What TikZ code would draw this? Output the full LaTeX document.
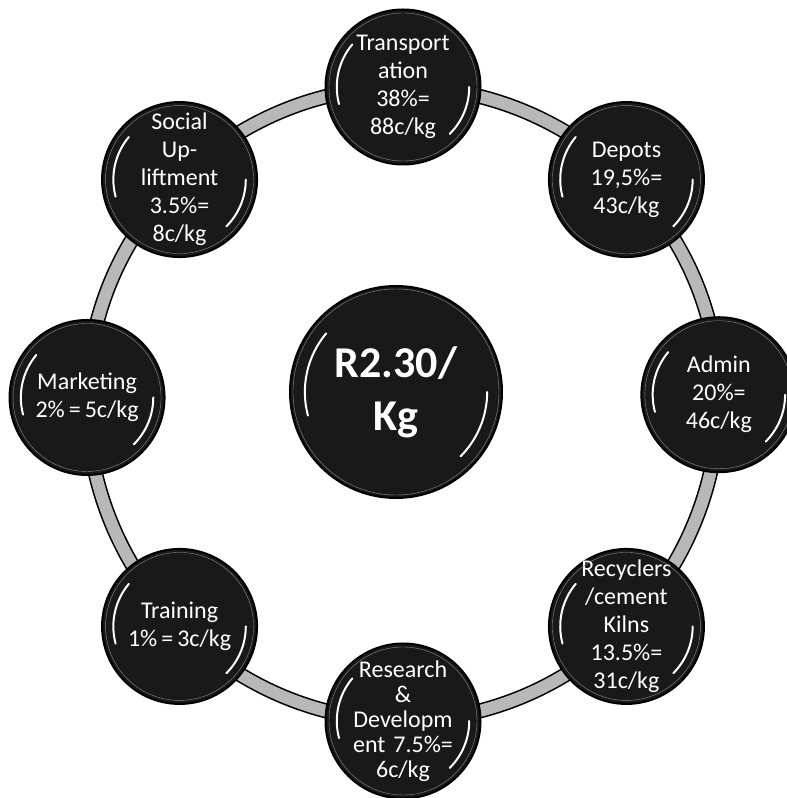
\documentclass[tikz,border=0pt]{standalone}
\usepackage{fontspec}
\setmainfont{Carlito}
\usetikzlibrary{backgrounds,calc}

\begin{document}
\begin{tikzpicture}[x=1pt,y=1pt]
    \tikzstyle{ball}=[circle,draw=black,line width=2pt,fill=black!90,text=white!92,
    minimum size=155pt,inner sep=-15pt,text width=120pt,align=center,
    font=\fontsize{24}{28}\selectfont]
    \tikzstyle{hub}=[ball,minimum size=212pt,text width=150pt,
    font=\fontsize{44}{53}\selectfont\bfseries]
    \tikzstyle{band}=[line width=1.6pt,draw=black,double=black!28,double distance=12pt]
    \tikzstyle{gloss}=[white!88,line width=2pt,line cap=round]

    \useasboundingbox (0,0) rectangle (787,798);
    \coordinate (ringc) at (403,395);

    %% Price in the middle
    \node [hub] (price) at (396,406) {R2.30/\\Kg};

    %% Cost items round the ring
    \node [ball] (trans) at ($(ringc)+(90:316)$) {Transport\\ation\\38\%=\\88c/kg};
    \node [ball] (depots) at ($(ringc)+(45:316)$) {Depots\\19,5\%=\\43c/kg};
    \node [ball] (admin) at ($(ringc)+(1.5:316)$) {Admin\\20\%=\\46c/kg};
    \node [ball] (recyc) at ($(ringc)+(-45:316)$) {Recyclers\\/cement\\Kilns\\13.5\%=\\31c/kg};
    \node [ball,font=\fontsize{24}{25}\selectfont] (research) at ($(ringc)+(-90:318)$)
    {Research\\\&\\Developm\\ent 7.5\%=\\6c/kg};
    \node [ball] (training) at ($(ringc)+(-135:316)$) {Training\\1\%\,=\,3c/kg};
    \node [ball] (marketing) at ($(ringc)+(179:316)$) {Marketing\\2\%\,=\,5c/kg};
    \node [ball] (social) at ($(ringc)+(135:316)$) {Social\\Up-\\liftment\\3.5\%=\\8c/kg};

    %% Shine on each ball
    \foreach \n/\r in {price/106,trans/77,depots/77,admin/77,recyc/77,research/77,
    training/77,marketing/77,social/77}{
        \draw [black!45,thin] (\n.center) circle [radius=\r-3];
        \draw [gloss] ($(\n.center)+(140:{0.86*\r})$) arc [start angle=140,end angle=195,radius={0.86*\r}];
        \draw [gloss] ($(\n.center)+(-45:{0.86*\r})$) arc [start angle=-45,end angle=0,radius={0.86*\r}];
    }

    %% Band joining the ring
    \begin{pgfonlayer}{background}
        \foreach \a/\b in {trans/depots,depots/admin,admin/recyc,recyc/research,
        research/training,training/marketing,marketing/social,social/trans}
            \draw [band] (\a.center) to [bend left=22.5,looseness=0.885] (\b.center);
    \end{pgfonlayer}

\end{tikzpicture}
\end{document}
